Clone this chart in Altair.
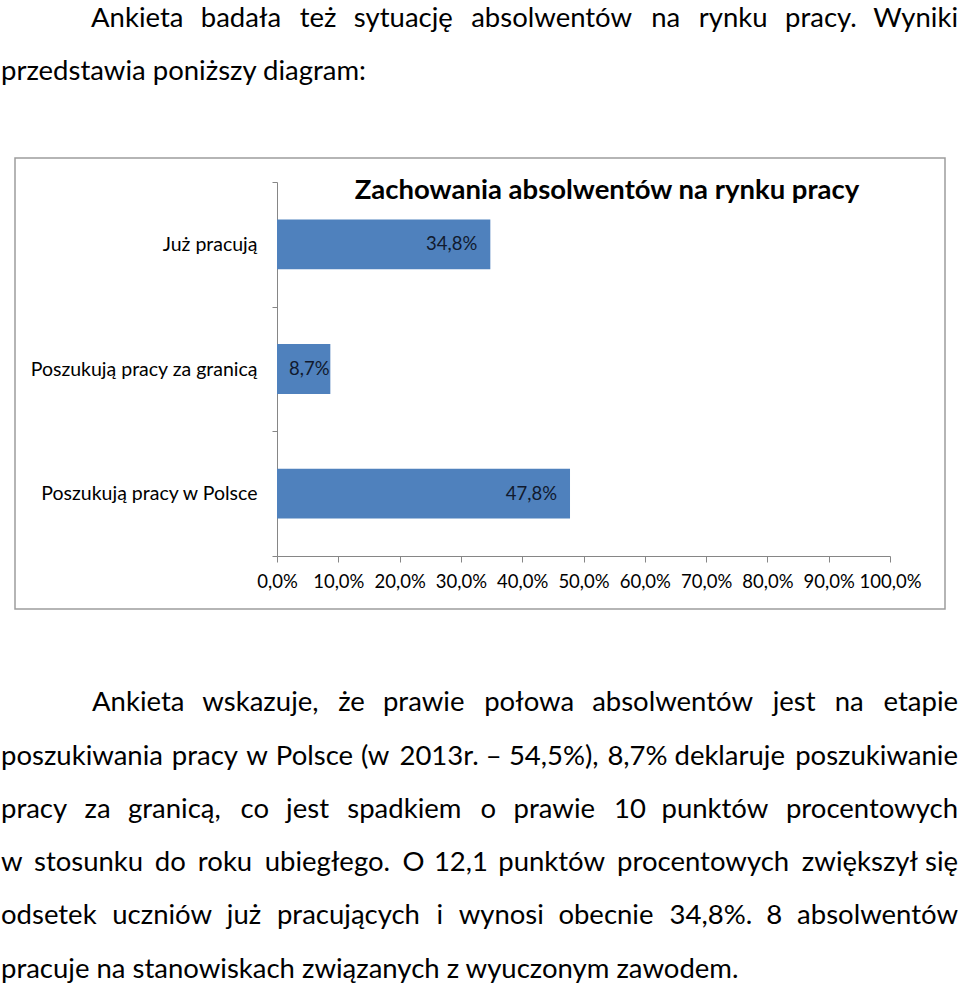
import altair as alt
import pandas as pd

# ---- chart data ----
categories = ["Już pracują", "Poszukują pracy za granicą", "Poszukują pracy w Polsce"]
values = [0.348, 0.087, 0.478]
x_ticks = [0.0, 0.1, 0.2, 0.3, 0.4, 0.5, 0.6, 0.7, 0.8, 0.9, 1.0]
chart_title = "Zachowania absolwentów na rynku pracy"

# ---- surrounding document text ----
paragraph_lines = [
    "Ankieta badała też sytuację absolwentów na rynku pracy. Wyniki",
    "przedstawia poniższy diagram:",
    "Ankieta wskazuje, że prawie połowa absolwentów jest na etapie",
    "poszukiwania pracy w Polsce (w 2013r. – 54,5%), 8,7% deklaruje poszukiwanie",
    "pracy za granicą, co jest spadkiem o prawie 10 punktów procentowych",
    "w stosunku do roku ubiegłego. O 12,1 punktów procentowych zwiększył się",
    "odsetek uczniów już pracujących i wynosi obecnie 34,8%. 8 absolwentów",
    "pracuje na stanowiskach związanych z wyuczonym zawodem.",
]
line_baselines = [27, 80, 711, 765, 818, 871, 924, 978]
line_indent = [90, 0, 91, 0, 0, 0, 0, 0]
line_justified = [True, False, True, True, True, True, True, False]

# ---- layout helpers (text justification like the source document) ----
RIGHT_EDGE = 958
DOC_EM = 29.7  # size of the source document font, used only to space the words
GLYPH = {
    "a": .479, "b": .525, "c": .423, "d": .525, "e": .498, "f": .305, "g": .471, "h": .525,
    "i": .229, "j": .25, "k": .455, "l": .229, "m": .799, "n": .525, "o": .527, "p": .525,
    "q": .525, "r": .349, "s": .391, "t": .335, "u": .525, "v": .452, "w": .715, "x": .433,
    "y": .453, "z": .395, "ą": .479, "ę": .498, "ł": .246, "ó": .527, "ż": .395, "ś": .391,
    "ć": .423, "ń": .525, "A": .579, "O": .662, "P": .517, "W": .890, ",": .25, ".": .252,
    ":": .268, "%": .715, "(": .303, ")": .303, "–": .498,
}


def word_w(w):
    return sum(GLYPH.get(ch, .507 if ch.isdigit() else .5) for ch in w) * DOC_EM


FONT = "Lato"
BODY_SIZE = 27.5
BAR = "#4F81BD"
AXIS_GRAY = "#868686"

left_rows, right_rows = [], []
for line, base, indent, just in zip(paragraph_lines, line_baselines, line_indent, line_justified):
    if not just:
        left_rows.append({"word": line, "px": indent + 1, "py": base})
        continue
    words = line.split(" ")
    widths = [word_w(w) for w in words]
    gap = (RIGHT_EDGE - indent - sum(widths)) / (len(words) - 1)
    pos = indent + 1
    for w, wd in zip(words[:-1], widths[:-1]):
        left_rows.append({"word": w, "px": pos, "py": base})
        pos += wd + gap
    right_rows.append({"word": words[-1], "px": RIGHT_EDGE, "py": base})
left_df = pd.DataFrame(left_rows)
right_df = pd.DataFrame(right_rows)

df = pd.DataFrame({"cat": categories, "value": values})
one = pd.DataFrame({"a": [0]})

x_scale = alt.Scale(domain=[0, 1], range=[277, 890], nice=False, zero=True)
y_scale = alt.Scale(domain=categories, range=[182, 556], paddingInner=0, paddingOuter=0)

LBL = "replace(format(datum.value * 100, '.1f'), '.', ',') + '%'"

box = alt.Chart(one).mark_rect(fillOpacity=0, stroke="#9d9d9d", strokeWidth=1.5).encode(
    x=alt.value(15), x2=alt.value(945), y=alt.value(158), y2=alt.value(609)
)

bars = alt.Chart(df).mark_bar(color=BAR, height={"band": 0.4}).encode(
    x=alt.X("value:Q", scale=x_scale,
            axis=alt.Axis(orient="bottom", offset=-432, values=x_ticks, grid=False, title=None,
                          labelExpr=LBL,
                          tickSize=6, tickColor=AXIS_GRAY, domainColor=AXIS_GRAY,
                          labelFont=FONT, labelFontSize=18.5, labelColor="#000000",
                          labelPadding=10, labelOverlap=False, labelFlush=False)),
    y=alt.Y("cat:N", sort=categories, scale=y_scale,
            axis=alt.Axis(orient="left", offset=-277, title=None, tickBand="extent",
                          tickSize=5, tickColor=AXIS_GRAY, domainColor=AXIS_GRAY,
                          labelFont=FONT, labelFontSize=19.5, labelColor="#000000",
                          labelPadding=15, labelLimit=400)),
)

label_big = alt.Chart(df).transform_filter("datum.value >= 0.12").transform_calculate(
    lbl=LBL
).mark_text(
    align="right", baseline="middle", dx=-13, font=FONT, fontSize=18.5, color="#111a2e"
).encode(
    x=alt.X("value:Q", scale=x_scale, axis=None),
    y=alt.Y("cat:N", sort=categories, scale=y_scale, axis=None),
    text=alt.Text("lbl:N"),
)

label_small = alt.Chart(df).transform_filter("datum.value < 0.12").transform_calculate(
    lbl=LBL, zero="0"
).mark_text(
    align="left", baseline="middle", dx=12, font=FONT, fontSize=18.5, color="#111a2e"
).encode(
    x=alt.X("zero:Q", scale=x_scale, axis=None),
    y=alt.Y("cat:N", sort=categories, scale=y_scale, axis=None),
    text=alt.Text("lbl:N"),
)

title = alt.Chart(one).mark_text(
    align="center", baseline="alphabetic", font=FONT, fontSize=27.5, fontWeight="bold", color="#000000"
).encode(x=alt.value(607), y=alt.value(199), text=alt.value(chart_title))

words_left = alt.Chart(left_df).mark_text(
    align="left", baseline="alphabetic", font=FONT, fontSize=BODY_SIZE, color="#000000"
).encode(
    x=alt.X("px:Q", scale=None, axis=None),
    y=alt.Y("py:Q", scale=None, axis=None),
    text="word:N",
)

words_right = alt.Chart(right_df).mark_text(
    align="right", baseline="alphabetic", font=FONT, fontSize=BODY_SIZE, color="#000000"
).encode(
    x=alt.X("px:Q", scale=None, axis=None),
    y=alt.Y("py:Q", scale=None, axis=None),
    text="word:N",
)

chart = alt.layer(
    box, bars, label_big, label_small, title, words_left, words_right
).resolve_scale(x="independent", y="independent").resolve_axis(
    x="independent", y="independent"
).properties(
    width=960, height=988, padding=0, autosize=alt.AutoSizeParams(type="none")
).configure_view(stroke=None)

chart.save("out.html", embed_options={"renderer": "svg", "actions": False})
